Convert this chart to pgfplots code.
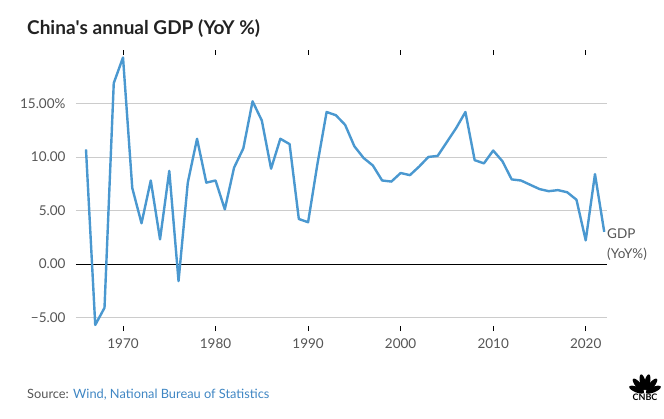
\documentclass[border=0pt]{standalone}
\usepackage{fontspec}
\setmainfont{Lato}
\usepackage{pgfplots}
\pgfplotsset{compat=1.18}
\definecolor{linec}{HTML}{4A98D0}
\definecolor{gridc}{HTML}{CCCCCC}
\definecolor{tickc}{HTML}{555555}
\definecolor{titlec}{HTML}{222222}
\definecolor{srcblue}{HTML}{3F86C3}
\begin{document}
\begin{tikzpicture}
\useasboundingbox (0,0) rectangle (664pt,-418pt);
\node[anchor=base west, text=titlec, inner sep=0pt] at (27pt,-34pt) {\fontsize{19}{22}\selectfont\bfseries China\textquotesingle s annual GDP (YoY \%)};
\begin{axis}[
  at={(76pt,-326pt)}, anchor=south west,
  scale only axis, width=531pt, height=270.7pt,
  xmin=1964.92, xmax=2022.3,
  ymin=-5.8, ymax=19.5,
  axis line style={draw=none},
  xtick={1970,1980,1990,2000,2010,2020},
  xticklabels={1970,1980,1990,2000,2010,2020},
  ytick={-5,0,5,10,15},
  yticklabels={−5.00,0.00,5.00,10.00,15.00\%},
  ymajorgrids, grid style={gridc, line width=0.8pt},
  tick align=outside,
  major tick length=5pt,
  xtick style={black, line width=0.6pt},
  ytick style={draw=none},
  ticklabel style={font=\fontsize{13.5}{15}\selectfont, text=tickc},
  yticklabel style={xshift=-2pt},
  xticklabel style={yshift=-4pt},
  clip=false,
]
\draw[black, line width=0.8pt] (axis cs:1964.92,0) -- (axis cs:2022.3,0);
\addplot[linec, line width=2.4pt, line join=round] coordinates {
(1966,10.7)(1967,-5.7)(1968,-4.1)(1969,16.9)(1970,19.3)(1971,7.1)(1972,3.8)
(1973,7.8)(1974,2.3)(1975,8.7)(1976,-1.6)(1977,7.6)(1978,11.7)(1979,7.6)
(1980,7.8)(1981,5.1)(1982,9.0)(1983,10.8)(1984,15.2)(1985,13.4)(1986,8.9)
(1987,11.7)(1988,11.2)(1989,4.2)(1990,3.9)(1991,9.3)(1992,14.2)(1993,13.9)
(1994,13.0)(1995,11.0)(1996,9.9)(1997,9.2)(1998,7.8)(1999,7.7)(2000,8.5)
(2001,8.3)(2002,9.1)(2003,10.0)(2004,10.1)(2005,11.4)(2006,12.7)(2007,14.2)
(2008,9.7)(2009,9.4)(2010,10.6)(2011,9.6)(2012,7.9)(2013,7.8)(2014,7.4)
(2015,7.0)(2016,6.8)(2017,6.9)(2018,6.7)(2019,6.0)(2020,2.2)(2021,8.4)(2022,3.0)
};
\end{axis}
\node[anchor=west, align=left, text=tickc, inner sep=0pt, font=\fontsize{13.5}{20}\selectfont] at (607pt,-245pt) {GDP\\(YoY\%)};
\node[anchor=base west, inner sep=0pt, font=\fontsize{12.8}{14}\selectfont] at (27pt,-398pt) {\textcolor{tickc}{Source:} \textcolor{srcblue}{Wind, National Bureau of Statistics}};
% CNBC logo
\foreach \a/\d in {22/9,50/10.5,78/11,102/11,130/10.5,158/9} {
  \fill[black] (645pt,-393pt) ++(\a:\d pt) ellipse[x radius=8pt, y radius=2.8pt, rotate=\a];
}
\node[anchor=north, inner sep=0pt, font=\fontsize{9}{9}\selectfont\bfseries] at (645pt,-394pt) {CNBC};
\end{tikzpicture}
\end{document}
